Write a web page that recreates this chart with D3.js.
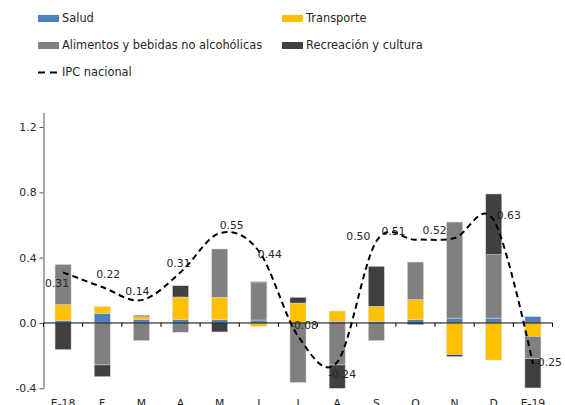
<!DOCTYPE html>
<html>
<head>
<meta charset="utf-8">
<script src="https://cdn.jsdelivr.net/npm/d3@7"></script>
<style>
  body { margin: 0; background: #fff; }
  svg { display: block; font-family: Verdana, "DejaVu Sans", sans-serif; }
</style>
</head>
<body>
<div id="chart"></div>
<script>
// categories (months)
var months = ["E-18", "F", "M", "A", "M ", "J", "J ", "A ", "S", "O", "N", "D", "E-19"];

// series values (contributions, percentage points)
var salud       = [0.016, 0.059, 0.022, 0.022, 0.020, 0.018, 0.003, 0.010, 0.010, 0.020, 0.030, 0.030, 0.039];
var transporte  = [0.096, 0.041, 0.017, 0.137, 0.137, -0.021, 0.119, 0.063, 0.092, 0.123, -0.194, -0.227, -0.082];
var alimentos   = [0.246, -0.257, -0.108, -0.057, 0.296, 0.229, -0.364, -0.257, -0.108, 0.230, 0.588, 0.388, -0.137];
var recreacion  = [-0.163, -0.072, 0.008, 0.069, -0.055, 0.006, 0.035, -0.143, 0.245, -0.010, -0.012, 0.372, -0.179];
var ipc         = [0.31, 0.22, 0.14, 0.31, 0.55, 0.44, -0.08, -0.24, 0.50, 0.51, 0.52, 0.63, -0.25];

var yTicks = [-0.4, 0, 0.4, 0.8, 1.2];

var seriesNames = ["Salud", "Transporte", "Alimentos y bebidas no alcohólicas", "Recreación y cultura"];
var seriesColors = ["#4f81bd", "#ffc000", "#808080", "#404040"];

// label offsets for the IPC data labels (dx, dy from the point)
var labelDx = [-6, 6, -4, -2, 12, 11, 6, 5, -18, -22, -20, 15, 15];
var labelDy = [11, -13, -9, -9, -8, 3, -11, 12, -5, -8, -8, -5, -2];

var W = 565, H = 405;
var svg = d3.select("#chart").append("svg")
    .attr("width", W)
    .attr("height", H);

var x = d3.scaleBand()
    .domain(months)
    .range([43.5, 552.5])
    .paddingInner(0.59)
    .paddingOuter(0.295);

var y = d3.scaleLinear()
    .domain([-0.4, 1.29])
    .range([388.3, 112.3]);

// build table for stacking
var keys = ["salud", "transporte", "alimentos", "recreacion"];
var table = months.map(function(m, i) {
  return { month: m, salud: salud[i], transporte: transporte[i], alimentos: alimentos[i], recreacion: recreacion[i] };
});

var stacked = d3.stack()
    .keys(keys)
    .offset(d3.stackOffsetDiverging)(table);

var bars = svg.append("g");
bars.selectAll("g")
    .data(stacked)
  .enter().append("g")
    .attr("fill", function(d, i) { return seriesColors[i]; })
  .selectAll("rect")
    .data(function(d) { return d; })
  .enter().append("rect")
    .attr("x", function(d) { return x(d.data.month); })
    .attr("width", x.bandwidth())
    .attr("y", function(d) { return y(Math.max(d[0], d[1])); })
    .attr("height", function(d) { return Math.abs(y(d[0]) - y(d[1])); })
    .attr("stroke", "#d9d9d9")
    .attr("stroke-width", 0.5);

// Y axis
var yAxis = svg.append("g")
    .attr("transform", "translate(43.5,0)")
    .call(d3.axisLeft(y).tickValues(yTicks).tickSize(4).tickSizeOuter(0)
      .tickFormat(d3.format(".1f")));
yAxis.select(".domain").attr("stroke", "#595959");
yAxis.selectAll(".tick line").attr("stroke", "#595959");
yAxis.selectAll(".tick text")
    .attr("font-size", "10.8px")
    .attr("fill", "#262626")
    .attr("font-family", "Verdana, 'DejaVu Sans', sans-serif")
    .text(function(d) { return d3.format(".1f")(d).replace("−", "-"); });

// X axis at zero
var x0 = x.range()[0], step = x.step();
svg.append("line")
    .attr("x1", x0).attr("x2", x.range()[1])
    .attr("y1", y(0)).attr("y2", y(0))
    .attr("stroke", "#000").attr("stroke-width", 1);
svg.append("g").selectAll("line")
    .data(d3.range(months.length + 1))
  .enter().append("line")
    .attr("x1", function(i) { return x0 + i * step; })
    .attr("x2", function(i) { return x0 + i * step; })
    .attr("y1", y(0)).attr("y2", y(0) + 4)
    .attr("stroke", "#000");

// month labels along bottom
svg.append("g").selectAll("text")
    .data(months)
  .enter().append("text")
    .attr("x", function(d) { return x(d) + x.bandwidth() / 2; })
    .attr("y", 406.5)
    .attr("text-anchor", "middle")
    .attr("font-size", "10.8px")
    .attr("fill", "#262626")
    .text(function(d) { return d.trim(); });

// IPC line
var line = d3.line()
    .x(function(d, i) { return x(months[i]) + x.bandwidth() / 2; })
    .y(function(d) { return y(d); })
    .curve(d3.curveCardinal.tension(0));

svg.append("path")
    .datum(ipc)
    .attr("fill", "none")
    .attr("stroke", "#000")
    .attr("stroke-width", 2)
    .attr("stroke-dasharray", "6,4")
    .attr("d", line);

// IPC labels
svg.append("g").selectAll("text")
    .data(ipc)
  .enter().append("text")
    .attr("x", function(d, i) { return x(months[i]) + x.bandwidth() / 2 + labelDx[i]; })
    .attr("y", function(d, i) { return y(d) + labelDy[i]; })
    .attr("dy", "0.35em")
    .attr("text-anchor", "middle")
    .attr("font-size", "10.8px")
    .attr("fill", "#262626")
    .text(function(d) { return d.toFixed(2); });

// legend
var legendPos = [[38, 18.5], [282, 18.5], [38, 45.5], [282, 45.5]];
var legend = svg.append("g");
seriesNames.forEach(function(name, i) {
  legend.append("rect")
      .attr("x", legendPos[i][0]).attr("y", legendPos[i][1] - 3.5)
      .attr("width", 21).attr("height", 7)
      .attr("fill", seriesColors[i]);
  legend.append("text")
      .attr("x", legendPos[i][0] + 24).attr("y", legendPos[i][1])
      .attr("dy", "0.35em")
      .attr("font-size", "11.4px")
      .attr("fill", "#262626")
      .text(name);
});
legend.append("line")
    .attr("x1", 38).attr("x2", 59)
    .attr("y1", 72.5).attr("y2", 72.5)
    .attr("stroke", "#000").attr("stroke-width", 2)
    .attr("stroke-dasharray", "7,5");
legend.append("text")
    .attr("x", 62).attr("y", 72.5)
    .attr("dy", "0.35em")
    .attr("font-size", "11.4px")
    .attr("fill", "#262626")
    .text("IPC nacional");
</script>
</body>
</html>
